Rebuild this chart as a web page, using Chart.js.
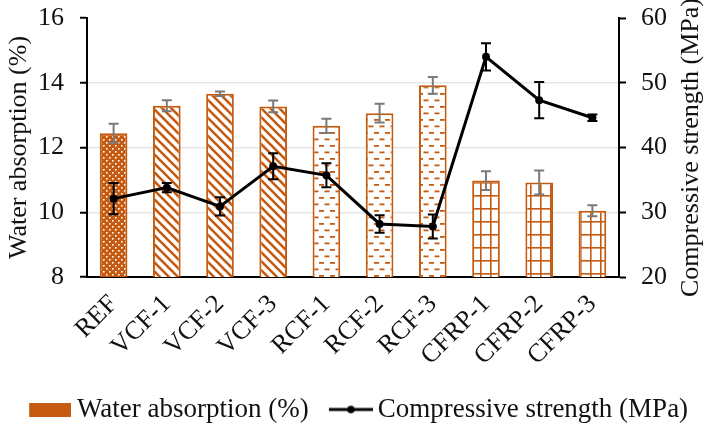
<!DOCTYPE html>
<html>
<head>
<meta charset="utf-8">
<script src="https://cdn.jsdelivr.net/npm/chart.js@4.4.1/dist/chart.umd.min.js"></script>
<style>
  html, body { margin: 0; padding: 0; background: #fff; }
  #wrap { width: 707px; height: 428px; }
</style>
</head>
<body>
<div id="wrap"><canvas id="chart" width="707" height="428"></canvas></div>
<script>
// Mix designs and measured properties
const categories = ['REF', 'VCF-1', 'VCF-2', 'VCF-3', 'RCF-1', 'RCF-2', 'RCF-3', 'CFRP-1', 'CFRP-2', 'CFRP-3'];
const waterAbsorption = [12.44, 13.29, 13.66, 13.27, 12.67, 13.06, 13.92, 10.98, 10.92, 10.05];
const waterAbsorptionErr = [0.29, 0.17, 0.07, 0.18, 0.22, 0.29, 0.26, 0.29, 0.37, 0.17];
const compressiveStrength = [32.1, 33.8, 30.9, 37.1, 35.7, 28.2, 27.8, 54.0, 47.3, 44.6];
const compressiveStrengthErr = [2.4, 0.7, 1.4, 2.0, 1.85, 1.35, 1.85, 2.1, 2.8, 0.5];
const waterTicks = [8, 10, 12, 14, 16];
const strengthTicks = [20, 30, 40, 50, 60];

const ORANGE = '#C55A11';
const SERIF = '"Liberation Serif", "Times New Roman", serif';
const FONT = { family: SERIF, size: 26 };
const LEGEND_FONT = { family: SERIF, size: 27 };
const TEXT = '#111';

// Fill patterns: plain mix dotted, VCF hatched, RCF dashed, CFRP grid
function makePattern(kind) {
  const c = document.createElement('canvas');
  const g = c.getContext('2d');
  if (kind === 'dots') {
    c.width = 6; c.height = 6;
    g.fillStyle = ORANGE; g.fillRect(0, 0, 6, 6);
    g.fillStyle = '#fff';
    g.fillRect(1, 1, 1.6, 1.6); g.fillRect(4, 4, 1.6, 1.6);
  } else if (kind === 'diag') {
    const s = 9; c.width = s; c.height = s;
    g.fillStyle = '#fff'; g.fillRect(0, 0, s, s);
    g.strokeStyle = ORANGE; g.lineWidth = 2.6;
    g.beginPath();
    g.moveTo(-2, -2); g.lineTo(s + 2, s + 2);
    g.moveTo(-2, s - 2); g.lineTo(2, s + 2);
    g.moveTo(s - 2, -2); g.lineTo(s + 2, 2);
    g.stroke();
  } else if (kind === 'dash') {
    c.width = 11; c.height = 13;
    g.fillStyle = '#fff'; g.fillRect(0, 0, 11, 13);
    g.fillStyle = ORANGE;
    g.fillRect(0, 2, 5, 1.8);
    g.fillRect(5.5, 8.5, 5, 1.8);
  } else {
    c.width = 10; c.height = 13;
    g.fillStyle = '#fff'; g.fillRect(0, 0, 10, 13);
    g.fillStyle = ORANGE;
    g.fillRect(0, 0, 1.6, 13);
    g.fillRect(0, 0, 10, 1.6);
  }
  return g.createPattern(c, 'repeat');
}

const patterns = { dots: makePattern('dots'), diag: makePattern('diag'), dash: makePattern('dash'), grid: makePattern('grid') };
function fillFor(name) {
  if (name.startsWith('VCF')) return patterns.diag;
  if (name.startsWith('RCF')) return patterns.dash;
  if (name.startsWith('CFRP')) return patterns.grid;
  return patterns.dots;
}

// Legend symbols (content sits at the right of a transparent canvas so it hugs the text)
function legendRect() {
  const c = document.createElement('canvas');
  c.width = 60; c.height = 14;
  const g = c.getContext('2d');
  g.fillStyle = ORANGE; g.fillRect(18, 0, 42, 14);
  return c;
}
function legendLine() {
  const c = document.createElement('canvas');
  c.width = 62; c.height = 14;
  const g = c.getContext('2d');
  g.strokeStyle = '#000'; g.lineWidth = 3;
  g.beginPath(); g.moveTo(18, 7); g.lineTo(62, 7); g.stroke();
  g.fillStyle = '#000';
  g.beginPath(); g.arc(40, 7, 3.8, 0, Math.PI * 2); g.fill();
  return c;
}

// Error bars drawn after each dataset, in value space of its own axis
const errorBars = {
  id: 'errorBars',
  afterDatasetDraw(chart, args) {
    const ds = chart.data.datasets[args.index];
    if (!ds.errors) return;
    const scale = chart.scales[ds.yAxisID];
    const ctx = chart.ctx;
    ctx.save();
    ctx.strokeStyle = ds.errorColor;
    ctx.lineWidth = 2;
    args.meta.data.forEach((el, i) => {
      const v = ds.data[i], e = ds.errors[i];
      const x = el.x;
      const yHi = scale.getPixelForValue(v + e);
      const yLo = scale.getPixelForValue(v - e);
      ctx.beginPath();
      ctx.moveTo(x, yHi); ctx.lineTo(x, yLo);
      ctx.moveTo(x - 5, yHi); ctx.lineTo(x + 5, yHi);
      ctx.moveTo(x - 5, yLo); ctx.lineTo(x + 5, yLo);
      ctx.stroke();
    });
    ctx.restore();
  }
};

// Right-hand axis title, reading bottom to top
const rightTitle = {
  id: 'rightTitle',
  afterDraw(chart) {
    const s = chart.scales.y1;
    const ctx = chart.ctx;
    ctx.save();
    ctx.translate(s.right - 16, (s.top + s.bottom) / 2);
    ctx.rotate(-Math.PI / 2);
    ctx.font = `${FONT.size}px ${FONT.family}`;
    ctx.fillStyle = TEXT;
    ctx.textAlign = 'center';
    ctx.textBaseline = 'middle';
    ctx.fillText('Compressive strength (MPa)', 0, 0);
    ctx.restore();
  }
};

const innerGrid = (ctx) => {
  const v = ctx.tick && ctx.tick.value;
  return (v > 8 && v < 16) ? '#e6e6e6' : 'rgba(0,0,0,0)';
};

// Keep the value axes from reserving extra room above/below for their labels
const trimPadding = (s) => { s.paddingTop = 8; s.paddingBottom = 8; };

new Chart(document.getElementById('chart'), {
  data: {
    labels: categories,
    datasets: [
      {
        type: 'line',
        label: 'Compressive strength (MPa)',
        data: compressiveStrength,
        errors: compressiveStrengthErr,
        errorColor: '#000',
        yAxisID: 'y1',
        borderColor: '#000',
        backgroundColor: '#000',
        borderWidth: 3,
        pointRadius: 4,
        pointBorderWidth: 0,
        pointBackgroundColor: '#000',
        tension: 0,
        order: 0
      },
      {
        type: 'bar',
        label: 'Water absorption (%)',
        data: waterAbsorption,
        errors: waterAbsorptionErr,
        errorColor: '#7a7a7a',
        yAxisID: 'y',
        backgroundColor: categories.map(fillFor),
        borderColor: ORANGE,
        borderWidth: 2,
        barPercentage: 0.52,
        categoryPercentage: 1,
        order: 1
      }
    ]
  },
  options: {
    responsive: false,
    animation: false,
    devicePixelRatio: 1,
    layout: { padding: { top: 18, left: 0, right: 0, bottom: -5 } },
    plugins: {
      tooltip: { enabled: false },
      legend: {
        position: 'bottom',
        labels: {
          usePointStyle: true,
          pointStyleWidth: 44.5,
          padding: 11,
          color: TEXT,
          font: LEGEND_FONT,
          generateLabels: () => [
            { text: 'Water absorption (%)', pointStyle: legendRect(), datasetIndex: 1, hidden: false, lineWidth: 0, fontColor: TEXT },
            { text: 'Compressive strength (MPa)', pointStyle: legendLine(), datasetIndex: 0, hidden: false, lineWidth: 0, fontColor: TEXT }
          ]
        }
      }
    },
    scales: {
      x: {
        offset: true,
        grid: { display: false, drawTicks: false },
        border: { display: true, color: '#000', width: 2 },
        ticks: { color: TEXT, font: FONT, minRotation: 45, maxRotation: 45, autoSkip: false, padding: 12 },
        afterFit: (s) => { s.height = 108; }
      },
      y: {
        position: 'left',
        min: 8, max: 16,
        afterBuildTicks: (s) => { s.ticks = waterTicks.map(v => ({ value: v })); },
        grid: { color: innerGrid, lineWidth: 1.5, tickColor: '#000', tickLength: 7, tickWidth: 2 },
        border: { color: '#000', width: 2 },
        ticks: { color: TEXT, font: FONT, padding: 16 },
        title: { display: true, text: 'Water absorption (%)', color: TEXT, font: FONT, padding: { top: 4, bottom: 0 } },
        afterFit: (s) => { s.width = 87; trimPadding(s); }
      },
      y1: {
        position: 'right',
        min: 20, max: 60,
        afterBuildTicks: (s) => { s.ticks = strengthTicks.map(v => ({ value: v })); },
        grid: { drawOnChartArea: false, tickColor: '#000', tickLength: 7, tickWidth: 2 },
        border: { color: '#000', width: 2 },
        ticks: { color: TEXT, font: FONT, padding: 15 },
        afterFit: (s) => { s.width = 88; trimPadding(s); }
      }
    }
  },
  plugins: [errorBars, rightTitle]
});
</script>
</body>
</html>
